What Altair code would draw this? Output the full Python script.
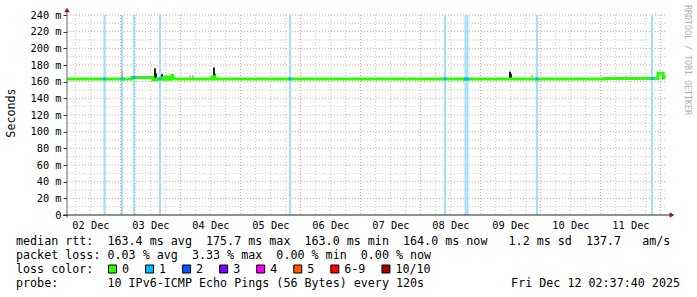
import altair as alt
import pandas as pd

# ---------------- data ----------------
# median RTT (ms), step series
med_time = ["2025-12-02T02:38:00", "2025-12-03T04:38:00", "2025-12-03T13:02:00", "2025-12-03T14:38:00",
            "2025-12-03T16:38:00", "2025-12-03T17:02:00", "2025-12-03T17:50:00", "2025-12-03T18:14:00",
            "2025-12-03T19:02:00", "2025-12-03T19:26:00", "2025-12-03T20:14:00", "2025-12-03T20:38:00",
            "2025-12-03T21:02:00", "2025-12-04T12:38:00", "2025-12-04T13:02:00", "2025-12-04T13:50:00",
            "2025-12-11T02:14:00", "2025-12-11T23:02:00", "2025-12-12T01:02:00", "2025-12-12T01:26:00",
            "2025-12-12T01:50:00"]
med_ms = [163.3, 165.0, 162.3, 163.3,
          164.5, 163.0, 165.5, 163.0,
          165.0, 163.0, 166.0, 167.0,
          163.3, 165.0, 166.0, 163.3,
          163.7, 170.0, 166.5, 164.5,
          164.5]

# smoke (ping spread), low/high ms and shade
smoke_time = ["2025-12-03T13:50:00", "2025-12-03T14:14:00", "2025-12-03T16:38:00", "2025-12-03T17:26:00",
              "2025-12-03T18:14:00", "2025-12-03T19:02:00", "2025-12-03T19:50:00", "2025-12-03T20:38:00",
              "2025-12-04T13:26:00", "2025-12-04T13:50:00", "2025-12-09T11:50:00", "2025-12-09T12:14:00",
              "2025-12-11T23:02:00", "2025-12-12T01:02:00",
              "2025-12-03T00:38:00", "2025-12-04T03:50:00", "2025-12-04T05:02:00", "2025-12-09T20:38:00",
              "2025-12-11T10:14:00"]
smoke_lo = [162, 162, 162, 162, 162, 162, 162, 162, 163, 163, 163, 163, 164, 163,
            162, 163, 163, 163, 163]
smoke_hi = [176, 170, 169, 166, 167, 166, 167, 169, 177, 169, 172, 169, 171, 168,
            173, 167, 168, 168, 167]
smoke_shade = ["#1e1e1e"] * 14 + ["#b4b4b4", "#c4c4c4", "#c4c4c4", "#c4c4c4", "#c4c4c4"]

# intervals with 1/10 loss
loss_time = ["2025-12-02T17:38:00", "2025-12-03T00:38:00", "2025-12-03T05:26:00", "2025-12-03T15:50:00",
             "2025-12-05T19:50:00", "2025-12-08T09:50:00", "2025-12-08T18:02:00", "2025-12-08T18:50:00",
             "2025-12-09T22:38:00", "2025-12-11T20:38:00"]
loss_ms = [163.3, 163.3, 165.0, 163.3, 163.3, 163.3, 163.3, 163.3, 163.3, 163.7]

day_numbers = [2, 3, 4, 5, 6, 7, 8, 9, 10, 11]
y_ticks = [0, 20, 40, 60, 80, 100, 120, 140, 160, 180, 200, 220, 240]

legend_labels = ["0", "1", "2", "3", "4", "5", "6-9", "10/10"]
legend_colors = ["#26ff00", "#00b8ff", "#0059ff", "#7e00ff", "#ff00ff", "#ff5500", "#ff0000", "#a00000"]

line1 = "median rtt:  163.4 ms avg  175.7 ms max  163.0 ms min  164.0 ms now   1.2 ms sd  137.7   am/s"
line2 = "packet loss: 0.03 % avg  3.33 % max  0.00 % min  0.00 % now"
line3 = "loss color:"
line4 = "probe:       10 IPv6-ICMP Echo Pings (56 Bytes) every 120s"
stamp = "Fri Dec 12 02:37:40 2025"
y_title = "Seconds"
watermark = "RRDTOOL / TOBI OETIKER"

# ---------------- layout / style ----------------
MONO = "DejaVu Sans Mono"
LEFT, TOP = 67, 15
W, H = 600, 200

xscale = alt.Scale(domain=[alt.DateTime(year=2025, month=12, date=2, hours=2, minutes=37, seconds=40),
                           alt.DateTime(year=2025, month=12, date=12, hours=2, minutes=37, seconds=40)])
yscale = alt.Scale(domain=[0, 240], nice=False, zero=False)

xaxis = alt.Axis(values=[alt.DateTime(year=2025, month=12, date=d, hours=12) for d in day_numbers],
                 format="%d %b", title=None, grid=False, ticks=False, tickSize=0, domain=False,
                 labelFont=MONO, labelFontSize=10.3, labelColor="black", labelPadding=5,
                 labelAlign="center", labelBaseline="top")
yaxis = alt.Axis(values=y_ticks, title=None, grid=False, domain=False, ticks=True, tickSize=4,
                 tickColor="#333333", labelFont=MONO, labelFontSize=10.3, labelColor="black",
                 labelPadding=2, labelExpr="datum.value == 0 ? '0' : datum.value + ' m'")


def X(field):
    return alt.X(field, type="temporal", scale=xscale, axis=xaxis)


def Y(field):
    return alt.Y(field, type="quantitative", scale=yscale, axis=yaxis)


# grid
hg = pd.DataFrame({"v": list(range(10, 241, 10))})
hg["c"] = ["#e09a9a" if v % 20 == 0 else "#c8c8c8" for v in hg["v"]]
vt = pd.date_range("2025-12-02 06:00", "2025-12-12 00:00", freq="6h")
vg = pd.DataFrame({"t": vt.strftime("%Y-%m-%dT%H:%M:%S"),
                   "c": ["#e09a9a" if t.hour == 0 else "#c8c8c8" for t in vt]})

hgrid = alt.Chart(hg).mark_rule(strokeDash=[1, 2], strokeWidth=1).encode(
    x=alt.value(0), x2=alt.value(W), y=Y("v"), color=alt.Color("c:N", scale=None))
vgrid = alt.Chart(vg).mark_rule(strokeDash=[1, 2], strokeWidth=1).encode(
    x=X("t"), y=alt.value(0), y2=alt.value(H), color=alt.Color("c:N", scale=None))

loss_df = pd.DataFrame({"t": loss_time, "ms": loss_ms})
loss_bars = alt.Chart(loss_df).mark_rule(strokeWidth=2, color="#a3defa").encode(
    x=X("t"), y=alt.value(0), y2=alt.value(H))

smoke_df = pd.DataFrame({"t": smoke_time, "lo": smoke_lo, "hi": smoke_hi, "shade": smoke_shade})
smoke = alt.Chart(smoke_df).mark_rule(strokeWidth=2).encode(
    x=X("t"), y=Y("lo"), y2="hi", color=alt.Color("shade:N", scale=None))

med_df = pd.DataFrame({"t": med_time, "ms": med_ms})
median = alt.Chart(med_df).mark_line(interpolate="step-after", strokeWidth=3, color="#26ff00").encode(
    x=X("t"), y=Y("ms"))

loss_pts = alt.Chart(loss_df).mark_square(size=9, color="#00b8ff", opacity=1).encode(
    x=X("t"), y=Y("ms"))

one = pd.DataFrame({"a": [0]})
yline = alt.Chart(one).mark_rule(color="#666666", strokeWidth=1).encode(
    x=alt.value(0), y=alt.value(-3), y2=alt.value(H + 3))
xline = alt.Chart(one).mark_rule(color="#222222", strokeWidth=1).encode(
    x=alt.value(-4), x2=alt.value(W + 4), y=alt.value(H))
yarrow = alt.Chart(one).mark_point(shape="triangle-up", size=30, filled=True, color="#8b1a1a", opacity=1).encode(
    x=alt.value(0), y=alt.value(-5))
xarrow = alt.Chart(one).mark_point(shape="triangle-right", size=30, filled=True, color="#8b1a1a", opacity=1).encode(
    x=alt.value(W + 5), y=alt.value(H))


def label(text, x, y, size=11.7, align="left", angle=0, color="black"):
    shown = text.replace(" ", "\u00a0")
    return alt.Chart(pd.DataFrame({"s": [shown]})).mark_text(
        font=MONO, fontSize=size, align=align, baseline="middle", angle=angle, color=color
    ).encode(x=alt.value(x - LEFT), y=alt.value(y - TOP), text="s:N")


texts = [
    label(line1, 16, 241),
    label(line2, 16, 255),
    label(line3, 16, 269),
    label(line4, 16, 283),
    label(stamp, 680, 283, align="right"),
    label(y_title, 11, 113, align="center", angle=270),
    label(watermark, 687, 60, size=8.3, align="center", angle=90, color="#b0b0b0"),
]

# loss colour legend squares
squares = []
sx = 108.0
for lab, col in zip(legend_labels, legend_colors):
    squares.append(alt.Chart(one).mark_square(size=64, filled=True, color=col, stroke="black",
                                              strokeWidth=1, opacity=1).encode(
        x=alt.value(sx + 4.5 - LEFT), y=alt.value(269 - TOP)))
    squares.append(label(lab, sx + 14, 269))
    sx += 30 + 7.05 * len(lab)

chart = alt.layer(
    hgrid, vgrid, loss_bars, smoke, median, loss_pts, yline, xline, yarrow, xarrow, *texts, *squares
).properties(
    width=W, height=H,
    autosize=alt.AutoSizeParams(type="none"),
    padding={"left": LEFT, "top": TOP, "right": 697 - LEFT - W, "bottom": 297 - TOP - H},
    background="white",
).configure_view(stroke=None)

chart.save("out.html", embed_options={"renderer": "svg", "actions": False})
